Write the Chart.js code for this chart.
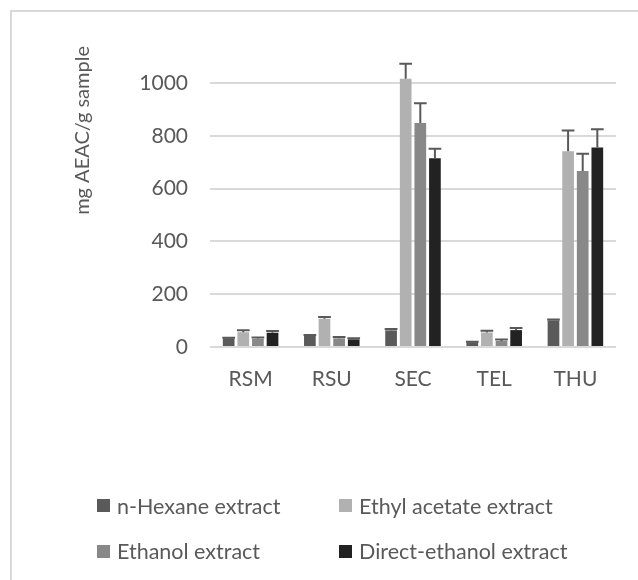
<!DOCTYPE html>
<html>
<head>
<meta charset="utf-8">
<script src="https://cdn.jsdelivr.net/npm/chart.js@4.4.1/dist/chart.umd.min.js"></script>
<style>
  html, body { margin: 0; padding: 0; background: #ffffff; }
  #wrap { position: relative; width: 638px; height: 580px; overflow: hidden;
          font-family: Lato, "Open Sans", sans-serif; }
  #frame { position: absolute; left: 10px; top: 10px; width: 700px; height: 700px;
           border: 2px solid #d9d9d9; box-sizing: border-box; }
  #chart { position: absolute; left: 0; top: 0; }
  #legend { position: absolute; left: 97px; top: 483px;
            display: grid; grid-template-columns: 242px 280px; grid-auto-rows: 45.5px; }
  .item { display: flex; align-items: center; color: #595959; font-size: 21.5px; white-space: nowrap; }
  .swatch { width: 13px; height: 13px; margin-right: 7px; flex: none; }
</style>
</head>
<body>
<div id="wrap">
  <div id="frame"></div>
  <canvas id="chart" width="638" height="580"></canvas>
  <div id="legend"></div>
</div>
<script>
// Samples on the x axis
const categories = ['RSM', 'RSU', 'SEC', 'TEL', 'THU'];

// Extract types (series)
const seriesNames = ['n-Hexane extract', 'Ethyl acetate extract', 'Ethanol extract', 'Direct-ethanol extract'];
const seriesColors = ['#5a5a5a', '#b1b1b1', '#888888', '#222222'];

// Antioxidant capacity, mg AEAC/g sample, and the standard deviations
const hexane        = [33, 42, 63, 18, 101];
const hexaneSd      = [2, 3, 5, 2, 3];
const ethylAcetate  = [56, 107, 1016, 55, 741];
const ethylAcetateSd = [7, 7, 57, 7, 79];
const ethanol       = [31, 33, 848, 23, 667];
const ethanolSd     = [5, 5, 75, 5, 65];
const directEthanol = [54, 29, 715, 64, 756];
const directEthanolSd = [7, 4, 36, 8, 69];

// Value axis tick labels
const yTicks = [0, 200, 400, 600, 800, 1000];

const values = [hexane, ethylAcetate, ethanol, directEthanol];
const errors = [hexaneSd, ethylAcetateSd, ethanolSd, directEthanolSd];

// Upward error bars with a flat cap, drawn on top of each bar
const errorBars = {
  id: 'errorBars',
  afterDatasetsDraw(chart) {
    const ctx = chart.ctx;
    const y = chart.scales.y;
    chart.data.datasets.forEach((ds, i) => {
      const meta = chart.getDatasetMeta(i);
      meta.data.forEach((bar, j) => {
        const v = ds.data[j];
        const e = ds.errors[j];
        const base = y.getPixelForValue(v);
        const top = y.getPixelForValue(v + e);
        const half = bar.width / 2 + 0.5;
        ctx.save();
        ctx.strokeStyle = '#595959';
        ctx.lineWidth = 2;
        ctx.beginPath();
        ctx.moveTo(bar.x, base);
        ctx.lineTo(bar.x, top);
        ctx.moveTo(bar.x - half, top);
        ctx.lineTo(bar.x + half, top);
        ctx.stroke();
        ctx.restore();
      });
    });
  }
};

const datasets = seriesNames.map((name, i) => ({
  label: name,
  data: values[i],
  errors: errors[i],
  backgroundColor: seriesColors[i],
  borderWidth: 0,
  barPercentage: 0.8,
  categoryPercentage: 0.72
}));

const textColor = '#595959';

new Chart(document.getElementById('chart'), {
  type: 'bar',
  data: { labels: categories, datasets },
  plugins: [errorBars],
  options: {
    responsive: false,
    animation: false,
    layout: { padding: { top: 46, right: 22, bottom: 0, left: 0 } },
    plugins: { legend: { display: false }, tooltip: { enabled: false } },
    scales: {
      x: {
        grid: { display: false, drawTicks: false },
        border: { display: false },
        ticks: { color: textColor, font: { family: 'Lato', size: 21 }, padding: 20 },
        afterFit(scale) { scale.height = 233; }
      },
      y: {
        min: 0,
        max: 1140,
        afterBuildTicks(scale) { scale.ticks = yTicks.map(v => ({ value: v })); },
        grid: { color: '#d9d9d9', lineWidth: 2, drawTicks: false },
        border: { display: false },
        ticks: {
          color: textColor,
          font: { family: 'Lato', size: 21 },
          padding: 22,
          callback: (value) => String(value)
        },
        title: {
          display: true,
          text: 'mg AEAC/g sample',
          align: 'end',
          color: textColor,
          font: { family: 'Lato', size: 20 },
          padding: { top: 71, bottom: 0 }
        },
        afterFit(scale) { scale.width = 210; }
      }
    }
  }
});

// Two-column legend built from the series
const legend = document.getElementById('legend');
seriesNames.forEach((name, i) => {
  const item = document.createElement('div');
  item.className = 'item';
  const sw = document.createElement('span');
  sw.className = 'swatch';
  sw.style.background = seriesColors[i];
  item.appendChild(sw);
  item.appendChild(document.createTextNode(name));
  legend.appendChild(item);
});
</script>
</body>
</html>
